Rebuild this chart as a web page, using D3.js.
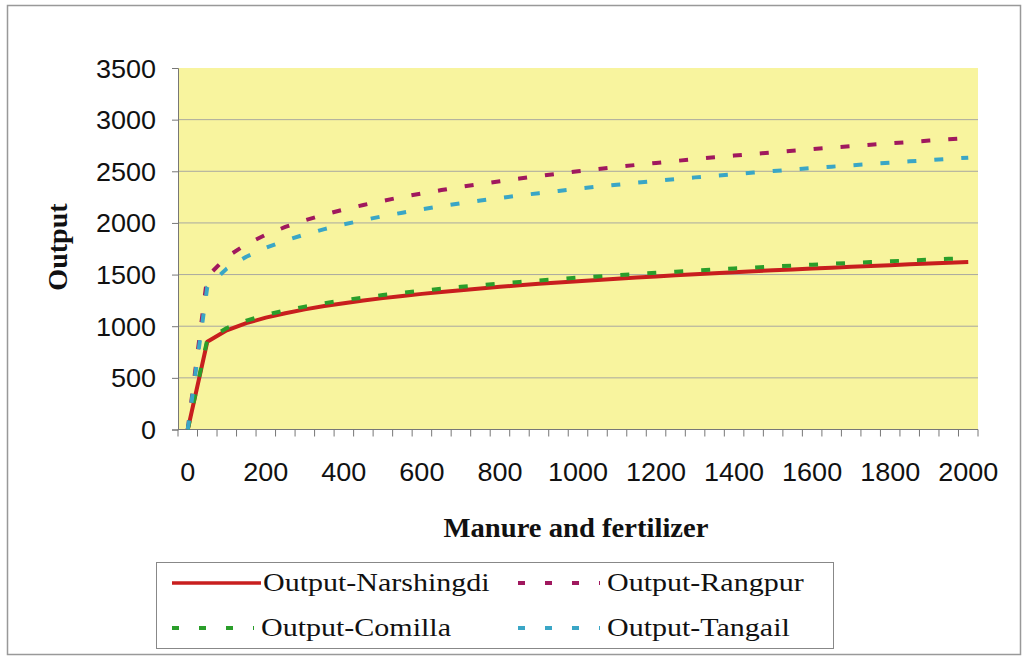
<!DOCTYPE html>
<meta charset="utf-8">
<script src="https://d3js.org/d3.v7.min.js"></script>
<body style="margin:0;background:#fff"></body>
<style>
  .ytick, .xtick { font-family: "Liberation Sans", Arial, sans-serif; font-size: 25px; fill: #111; }
  .title { font-family: "Liberation Serif", "Times New Roman", serif; font-size: 27px; font-weight: bold; fill: #111; }
  .legtext { font-family: "Liberation Serif", "Times New Roman", serif; font-size: 25px; fill: #111; }
</style>
<script type="text/javascript">

// categories on the x axis (manure and fertilizer)
var categories = [0, 50, 100, 150, 200, 250, 300, 350, 400, 450, 500, 550, 600, 650, 700, 750, 800,
  850, 900, 950, 1000, 1050, 1100, 1150, 1200, 1250, 1300, 1350, 1400, 1450, 1500, 1550, 1600,
  1650, 1700, 1750, 1800, 1850, 1900, 1950, 2000];

// values
var narshingdi = [0, 850, 960, 1030, 1083, 1126, 1163, 1195, 1223, 1249, 1272, 1293, 1313, 1332, 1349,
  1365, 1381, 1396, 1410, 1423, 1436, 1448, 1460, 1471, 1482, 1493, 1503, 1513, 1523, 1532, 1541,
  1550, 1559, 1567, 1575, 1584, 1591, 1599, 1607, 1614, 1621];
var rangpur = [0, 1480, 1671, 1794, 1886, 1961, 2025, 2080, 2130, 2174, 2214, 2252, 2286, 2318, 2349,
  2377, 2404, 2430, 2454, 2478, 2500, 2521, 2542, 2562, 2581, 2600, 2618, 2635, 2652, 2668, 2684,
  2699, 2714, 2729, 2743, 2757, 2771, 2784, 2797, 2810, 2823];
var comilla = [0, 870, 982, 1054, 1109, 1153, 1190, 1223, 1252, 1278, 1302, 1324, 1344, 1363, 1381,
  1397, 1413, 1428, 1443, 1456, 1470, 1482, 1494, 1506, 1517, 1528, 1539, 1549, 1559, 1568, 1578,
  1587, 1596, 1604, 1613, 1621, 1629, 1637, 1644, 1652, 1659];
var tangail = [0, 1380, 1558, 1673, 1759, 1829, 1888, 1940, 1986, 2027, 2065, 2099, 2132, 2162, 2190,
  2217, 2242, 2266, 2288, 2310, 2331, 2351, 2370, 2389, 2407, 2424, 2441, 2457, 2472, 2488, 2502,
  2517, 2531, 2545, 2558, 2571, 2583, 2596, 2608, 2620, 2632];

var xLabels = [0, 200, 400, 600, 800, 1000, 1200, 1400, 1600, 1800, 2000];
var yTicks = [0, 500, 1000, 1500, 2000, 2500, 3000, 3500];

var seriesNames = ["Output-Narshingdi", "Output-Rangpur", "Output-Comilla", "Output-Tangail"];
var seriesData = [narshingdi, rangpur, comilla, tangail];
var seriesColors = ["#c81e1e", "#a0185e", "#2a9e2a", "#3aa6c6"];
var seriesDash = [null, "9,18", "9,18", "9,18"];

var width = 1027,
    height = 657;

var svg = d3.select("body").append("svg")
    .attr("width", width)
    .attr("height", height);

// stretch a text element a bit wider, like the scanned original
function stretch(sel, k) {
  sel.each(function() {
    var len = this.getComputedTextLength();
    d3.select(this).attr("textLength", len * k).attr("lengthAdjust", "spacingAndGlyphs");
  });
}

// outer chart border
svg.append("rect")
    .attr("x", 7.5).attr("y", 5.5)
    .attr("width", 1013).attr("height", 649)
    .attr("fill", "#fff").attr("stroke", "#999").attr("stroke-width", 1.5);

var x = d3.scaleBand().domain(categories).range([178, 978]).padding(0);
var y = d3.scaleLinear().domain([0, 3500]).range([429.5, 68]);

// plot area
svg.append("rect")
    .attr("x", 178).attr("y", y(3500))
    .attr("width", 800).attr("height", y(0) - y(3500))
    .attr("fill", "#f8f49e");

// gridlines
svg.selectAll(".grid").data(yTicks.filter(function(d){ return d > 0 && d < 3500; }))
  .enter().append("line")
    .attr("x1", 178).attr("x2", 978)
    .attr("y1", function(d){ return y(d); }).attr("y2", function(d){ return y(d); })
    .attr("stroke", "#a9a8a0").attr("stroke-width", 1);

// y axis
var yAxis = svg.append("g")
    .attr("transform", "translate(178,0)")
    .call(d3.axisLeft(y).tickValues(yTicks).tickSize(6).tickPadding(16).tickFormat(d3.format("d")));
yAxis.select(".domain").attr("stroke", "#777");
yAxis.selectAll(".tick line").attr("stroke", "#777");
yAxis.selectAll("text").attr("class", "ytick").attr("fill", "#111").attr("font-size", null).attr("font-family", null)
    .attr("dy", "0.36em");
stretch(yAxis.selectAll("text"), 1.08);

// x axis: ticks between categories
var xAxisG = svg.append("g");
xAxisG.append("line")
    .attr("x1", 178).attr("x2", 978).attr("y1", y(0)).attr("y2", y(0))
    .attr("stroke", "#777");
var bounds = categories.map(function(c){ return x(c); }).concat([x(categories[categories.length - 1]) + x.bandwidth()]);
xAxisG.selectAll(".xt").data(bounds).enter().append("line")
    .attr("x1", function(d){ return d; }).attr("x2", function(d){ return d; })
    .attr("y1", y(0)).attr("y2", y(0) + 7)
    .attr("stroke", "#777");
xAxisG.selectAll(".xtick").data(xLabels).enter().append("text")
    .attr("class", "xtick")
    .attr("x", function(d){ return x(d) + x.bandwidth() / 2; })
    .attr("y", 481)
    .attr("text-anchor", "middle")
    .text(function(d){ return d; });
stretch(xAxisG.selectAll(".xtick"), 1.08);

// axis titles
svg.append("text").attr("class", "title")
    .attr("x", 576).attr("y", 537).attr("text-anchor", "middle")
    .text("Manure and fertilizer")
    .call(stretch, 1.06);
svg.append("text").attr("class", "title")
    .attr("transform", "translate(67,247) rotate(-90)")
    .attr("text-anchor", "middle")
    .text("Output")
    .call(stretch, 1.04);

// lines
var line = d3.line()
    .x(function(d, i){ return x(categories[i]) + x.bandwidth() / 2; })
    .y(function(d){ return y(d); });

svg.selectAll(".series").data(seriesData).enter().append("path")
    .attr("d", function(d){ return line(d); })
    .attr("fill", "none")
    .attr("stroke", function(d, i){ return seriesColors[i]; })
    .attr("stroke-width", 4)
    .attr("stroke-dasharray", function(d, i){ return seriesDash[i]; })
    .attr("stroke-linejoin", "round");

// legend
svg.append("rect")
    .attr("x", 156.5).attr("y", 562.5)
    .attr("width", 677).attr("height", 86)
    .attr("fill", "#fff").attr("stroke", "#888").attr("stroke-width", 1);

var legPos = [[172, 583], [518, 583], [172, 628], [518, 628]];
var leg = svg.selectAll(".leg").data(seriesNames).enter().append("g")
    .attr("transform", function(d, i){ return "translate(" + legPos[i][0] + "," + legPos[i][1] + ")"; });
leg.append("line")
    .attr("x1", 0).attr("x2", function(d, i){ return i == 0 ? 89 : 82; })
    .attr("y1", 0).attr("y2", 0)
    .attr("stroke", function(d, i){ return seriesColors[i]; })
    .attr("stroke-width", function(d, i){ return i == 0 ? 3.5 : 4; })
    .attr("stroke-dasharray", function(d, i){ return i == 0 ? null : "7,20"; });
leg.append("text").attr("class", "legtext")
    .attr("x", function(d, i){ return i == 0 ? 91 : 89; })
    .attr("y", 8)
    .text(function(d){ return d; });
stretch(leg.selectAll("text"), 1.2);

</script>
</html>
